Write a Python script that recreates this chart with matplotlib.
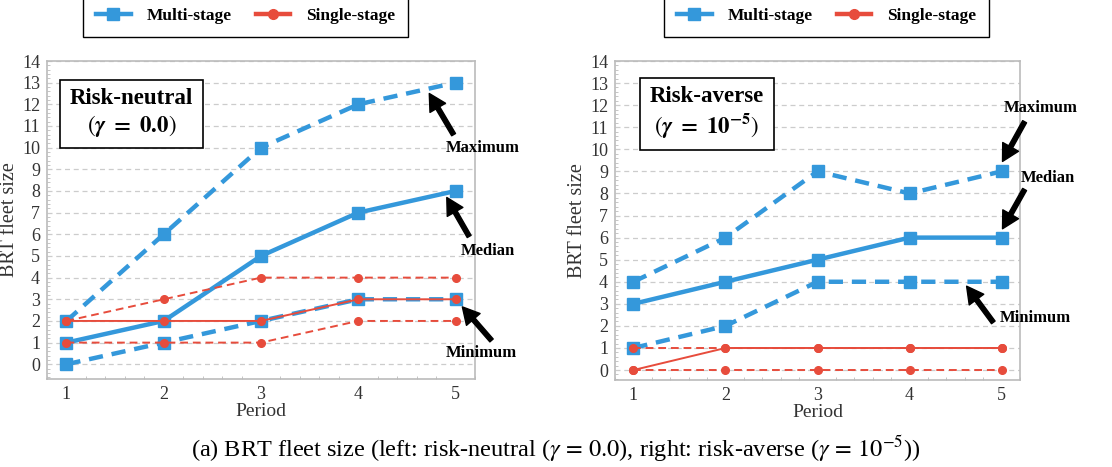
import matplotlib
matplotlib.use("Agg")
import matplotlib.pyplot as plt
from matplotlib.ticker import MultipleLocator
from matplotlib.lines import Line2D

periods = [1, 2, 3, 4, 5]

# Risk-neutral (left)
rn_multi_max = [2, 6, 10, 12, 13]
rn_multi_med = [1, 2, 5, 7, 8]
rn_multi_min = [0, 1, 2, 3, 3]
rn_single_max = [2, 3, 4, 4, 4]
rn_single_med = [2, 2, 2, 3, 3]
rn_single_min = [1, 1, 1, 2, 2]

# Risk-averse (right)
ra_multi_max = [4, 6, 9, 8, 9]
ra_multi_med = [3, 4, 5, 6, 6]
ra_multi_min = [1, 2, 4, 4, 4]
ra_single_max = [1, 1, 1, 1, 1]
ra_single_med = [0, 1, 1, 1, 1]
ra_single_min = [0, 0, 0, 0, 0]

yticks = list(range(0, 15))
legend_labels = ["Multi-stage", "Single-stage"]

BLUE = "#3498db"
RED = "#e74c3c"

plt.rcParams["font.family"] = ["Liberation Serif", "DejaVu Serif"]
plt.rcParams["mathtext.fontset"] = "stix"

fig = plt.figure(figsize=(11.12, 4.67), dpi=100)
axL = fig.add_axes([47/1112, 1-379/467, 428/1112, 318/467])
axR = fig.add_axes([615/1112, 1-380/467, 405/1112, 319/467])


def draw(ax, mmax, mmed, mmin, smax, smed, smin, ylow):
    kw_m = dict(color=BLUE, marker="s", markersize=9, lw=3.2, zorder=3)
    kw_s = dict(color=RED, marker="o", markersize=5.5, lw=1.4, zorder=4)
    ax.plot(periods, mmax, ls=(0, (3.2, 2)), **kw_m)
    ax.plot(periods, mmed, ls="-", **kw_m)
    ax.plot(periods, mmin, ls=(0, (3.2, 2)), **kw_m)
    ax.plot(periods, smax, ls=(0, (4, 2.5)), **kw_s)
    ax.plot(periods, smed, ls="-", **kw_s)
    ax.plot(periods, smin, ls=(0, (4, 2.5)), **kw_s)
    ax.set_xlim(0.8, 5.2)
    ax.set_ylim(ylow, 14)
    ax.set_xticks(periods)
    ax.set_yticks(yticks)
    ax.xaxis.set_minor_locator(MultipleLocator(0.2))
    ax.yaxis.set_minor_locator(MultipleLocator(0.2))
    ax.tick_params(which="both", direction="in", color="#bbbbbb",
                   labelsize=13, labelcolor="#333333")
    ax.tick_params(which="major", length=0, pad=5)
    ax.tick_params(which="minor", length=2.5)
    ax.grid(axis="y", ls=(0, (4, 3)), color="#cccccc", lw=0.9, zorder=0)
    for s in ax.spines.values():
        s.set_color("#bbbbbb")
        s.set_linewidth(1.2)
    ax.set_xlabel("Period", fontsize=14, color="#333333", labelpad=0)
    ax.set_ylabel("BRT fleet size", fontsize=14.5, color="#333333", labelpad=2)


draw(axL, rn_multi_max, rn_multi_med, rn_multi_min,
     rn_single_max, rn_single_med, rn_single_min, -0.68)
draw(axR, ra_multi_max, ra_multi_med, ra_multi_min,
     ra_single_max, ra_single_med, ra_single_min, -0.45)

box = dict(boxstyle="square,pad=0.42", fc="white", ec="black", lw=1.2)
axL.text(1.67, 11.58, "Risk-neutral\n" + r"$(\boldsymbol{\gamma}\ \mathbf{=\ 0.0})$",
         ha="center", va="center", fontsize=16.5, fontweight="bold",
         bbox=box, linespacing=1.2, zorder=6)
axR.text(1.80, 11.64, "Risk-averse\n" + r"$(\boldsymbol{\gamma}\ \mathbf{=\ 10^{-5}})$",
         ha="center", va="center", fontsize=16.5, fontweight="bold",
         bbox=box, linespacing=1.2, zorder=6)

aprops = dict(facecolor="black", edgecolor="black", width=3.2,
              headwidth=13, headlength=12, shrink=0)


def ann(ax, label, head, tail, textpos):
    ax.annotate("", xy=head, xytext=tail, arrowprops=aprops,
                annotation_clip=False, zorder=7)
    ax.text(textpos[0], textpos[1], label, ha="center", va="center",
            fontsize=12, fontweight="bold", clip_on=False, zorder=7)


ann(axL, "Maximum", (4.73, 12.5), (4.98, 10.6), (5.28, 9.98))
ann(axL, "Median", (4.91, 7.7), (5.14, 5.9), (5.33, 5.23))
ann(axL, "Minimum", (5.07, 2.65), (5.37, 1.1), (5.27, 0.52))

ann(axR, "Maximum", (5.01, 9.45), (5.25, 11.25), (5.43, 11.89))
ann(axR, "Median", (5.01, 6.4), (5.25, 8.18), (5.50, 8.72))
ann(axR, "Minimum", (4.62, 3.8), (4.91, 2.16), (5.37, 2.34))

handles = [
    Line2D([], [], color=BLUE, marker="s", markersize=9, lw=3.2),
    Line2D([], [], color=RED, marker="o", markersize=7, lw=3.2),
]
for cx in (245.5/1112, 826.5/1112):
    fig.legend(handles, legend_labels, loc="lower center",
               bbox_to_anchor=(cx, 1-37/467), ncol=2, frameon=True,
               fancybox=False, edgecolor="black", framealpha=1,
               prop=dict(family=["Liberation Serif"], weight="bold", size=12.5),
               handlelength=2.0, columnspacing=1.4, borderpad=0.75,
               handletextpad=0.9, borderaxespad=0)

fig.text(0.5, 1-449/467,
         r"(a) BRT fleet size (left: risk-neutral ($\gamma\,=\,0.0$), right: risk-averse ($\gamma\,=\,10^{-5}$))",
         ha="center", va="center", fontsize=17.5)

fig.savefig("out.png", dpi=100)
